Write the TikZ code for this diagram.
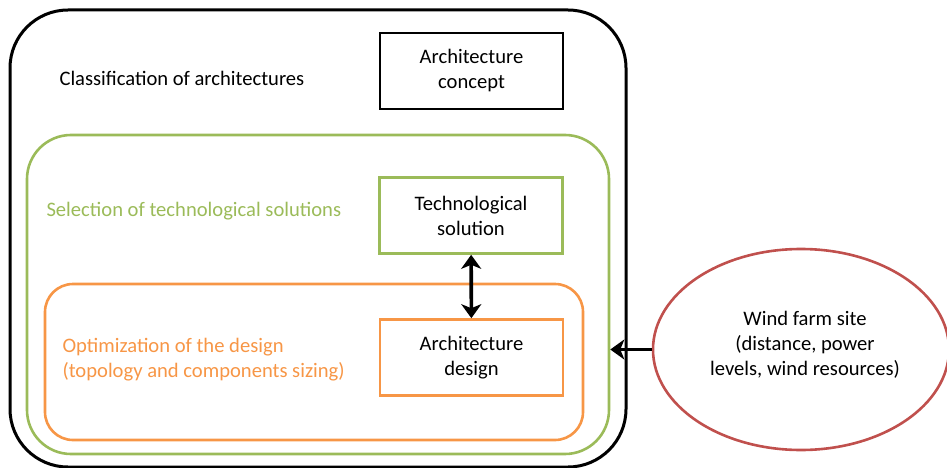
\documentclass[tikz,border=0pt]{standalone}
\usepackage{fontspec}
\setmainfont{Carlito}
\usepackage{tikz}
\usetikzlibrary{arrows.meta}
\usetikzlibrary{shapes.geometric}
\usetikzlibrary{positioning}
\definecolor{leafgreen}{HTML}{9BBB59}
\definecolor{tangerine}{HTML}{F79646}
\definecolor{brick}{HTML}{C0504D}
\tikzset{blockbox/.style={draw, line width=2.6pt, minimum width=183pt, minimum height=76pt, align=center, inner sep=0pt}}

\begin{document}
\begin{tikzpicture}[x=1pt, y=-1pt, font=\fontsize{20.6}{25}\selectfont]
\tikzstyle{frame} = [draw, line width=2.6pt, inner sep=0pt]
\tikzstyle{link} = [line width=3.6pt, -{Stealth[length=14pt, width=20pt, inset=4pt]}]
\tikzstyle{dlink} = [line width=3.6pt, {Stealth[length=14pt, width=20pt, inset=4pt]}-{Stealth[length=14pt, width=20pt, inset=4pt]}]
\useasboundingbox (0,0) rectangle (947,468);

% nested frames
\node[frame, line width=3pt, rounded corners=58pt, minimum width=616pt, minimum height=457pt](classif) at (318, 238.5){};
\node[frame, leafgreen, rounded corners=44pt, minimum width=582pt, minimum height=319pt](select) at (318, 294.5){};
\node[frame, tangerine, rounded corners=28pt, minimum width=538pt, minimum height=156pt](optim) at (314, 362){};

\node[anchor=west](classiftext) at (56, 78){Classification of architectures};
\node[anchor=west, text=leafgreen](selecttext) at (43, 211){Selection of technological solutions};
\node[anchor=west, text=tangerine, align=left](optimtext) at (59, 360){Optimization of the design\\(topology and components sizing)};

% boxes
\node[blockbox](concept) at (471.5, 71){Architecture\\concept};
\node[blockbox, leafgreen, text=black](techno) at (471, 215.5){Technological\\solution};
\node[blockbox, tangerine, text=black](design) at (471.5, 357.5){Architecture\\design};

\node[ellipse, draw=brick, line width=2.6pt, minimum width=296pt, minimum height=201pt, inner sep=0pt](site) at (801, 349.5){};
\node[align=center](sitetext) at (805, 345){Wind farm site\\(distance, power\\levels, wind resources)};

\draw[dlink] (techno) -- (design);
\draw[link] (site.west) -- (site.west -| select.east);

\end{tikzpicture}
\end{document}
